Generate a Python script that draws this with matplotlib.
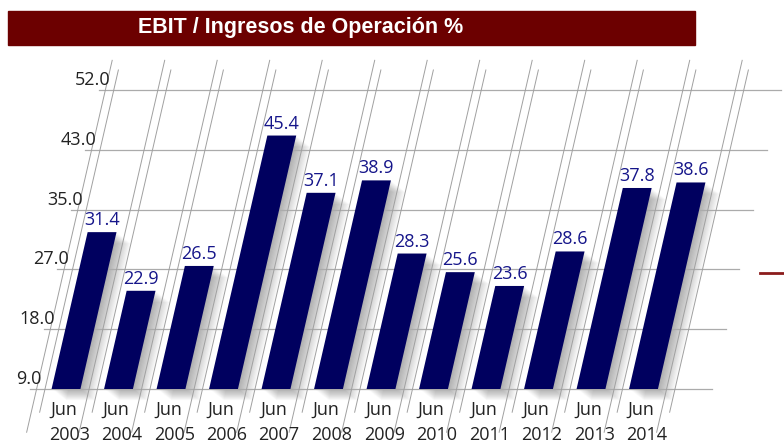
import numpy as np
import matplotlib
matplotlib.use('Agg')
import matplotlib.pyplot as plt
from matplotlib.transforms import Affine2D, offset_copy
from matplotlib.patches import Rectangle

# datos
anos = ['2003', '2004', '2005', '2006', '2007', '2008', '2009',
        '2010', '2011', '2012', '2013', '2014']
valores = [31.4, 22.9, 26.5, 45.4, 37.1, 38.9, 28.3, 25.6, 23.6, 28.6, 37.8, 38.6]
etiquetas_y = ['9.0', '18.0', '27.0', '35.0', '43.0', '52.0']
titulo = 'EBIT / Ingresos de Operación %'

plt.rcParams['font.family'] = ['Open Sans', 'DejaVu Sans']

# posiciones de las lineas de la grilla (equiespaciadas hasta 52)
pos_y = np.linspace(52 / 6, 52, len(etiquetas_y))
base = pos_y[0]

# escala en pixeles
ppu = 6.9        # px por unidad
paso = 52.5      # px entre barras
x_px0 = 66       # centro de la primera barra
base_px = 56     # base desde abajo
inclin = 0.23    # inclinacion de las barras

fig = plt.figure(figsize=(7.84, 4.45), dpi=100)
ax = fig.add_axes([0, 0, 1, 1])
ax.set_xlim(-x_px0 / paso, (784 - x_px0) / paso)
ax.set_ylim(base - base_px / ppu, base + (445 - base_px) / ppu)
ax.set_autoscale_on(False)
ax.axis('off')

y0 = ax.transData.transform((0, base))[1]
sesgo = Affine2D().translate(0, -y0).skew(np.arctan(inclin), 0).translate(0, y0)
tr = ax.transData + sesgo

x = np.arange(len(anos))
alturas = np.array(valores) - base
ancho = 0.55

# sombras
for k in range(1, 15):
    ax.bar(x + k * 1.2 / paso, alturas, bottom=base - k * 0.8 / ppu, width=ancho,
           color='black', alpha=0.025, linewidth=0, transform=tr, zorder=1)

# grilla horizontal
for p, lab in zip(pos_y, etiquetas_y):
    ax.plot([-0.69, 12.3], [p, p], color='#ababab', lw=0.9, transform=tr, zorder=2)
    ax.text(-0.69 + 0.22, p + 0.15, lab, ha='right', va='bottom', fontsize=13,
            color='#222222', transform=tr, zorder=4)

# lineas inclinadas dobles entre barras
for b in np.arange(-0.5, len(anos), 1.0):
    ax.plot([b - 0.06, b - 0.06], [2.4, 56.3], color='#a0a0a0', lw=0.7,
            transform=tr, zorder=2)
    ax.plot([b + 0.10, b + 0.10], [5.3, 54.9], color='#a0a0a0', lw=0.7,
            transform=tr, zorder=2)

# barras
ax.bar(x, alturas, bottom=base, width=ancho, color='#00005f', linewidth=0,
       transform=tr, zorder=3)

# valores
tr_val = offset_copy(tr, fig=fig, y=3, units='dots')
for i, v in enumerate(valores):
    ax.text(x[i], v, f'{v:.1f}', ha='center', va='bottom', fontsize=13,
            color='#15158a', transform=tr_val, zorder=4)

# etiquetas de los anos
tr_jun = offset_copy(ax.transData, fig=fig, y=-21, units='dots')
tr_ano = offset_copy(ax.transData, fig=fig, y=-46, units='dots')
for i, a in enumerate(anos):
    ax.text(x[i] - 0.05, base, 'Jun', ha='center', va='center', fontsize=13,
            color='#222222', transform=tr_jun, zorder=4)
    ax.text(x[i] + 0.06, base, a, ha='center', va='center', fontsize=13,
            color='#222222', transform=tr_ano, zorder=4)

# barra del titulo
fig.patches.append(Rectangle((8 / 784, 400 / 445), 687 / 784, 34 / 445,
                             transform=fig.transFigure, color='#6c0000', zorder=5))
fig.text(301 / 784, 417 / 445, titulo, ha='center', va='center', color='white',
         fontsize=15.5, fontweight='bold', family=['Liberation Sans', 'DejaVu Sans'],
         zorder=6)

# marca de leyenda cortada a la derecha
fig.add_artist(plt.Line2D([760 / 784, 1.0], [172 / 445, 172 / 445],
                          color='#8b1c1c', lw=2, transform=fig.transFigure))

fig.savefig('out.png', dpi=100)
